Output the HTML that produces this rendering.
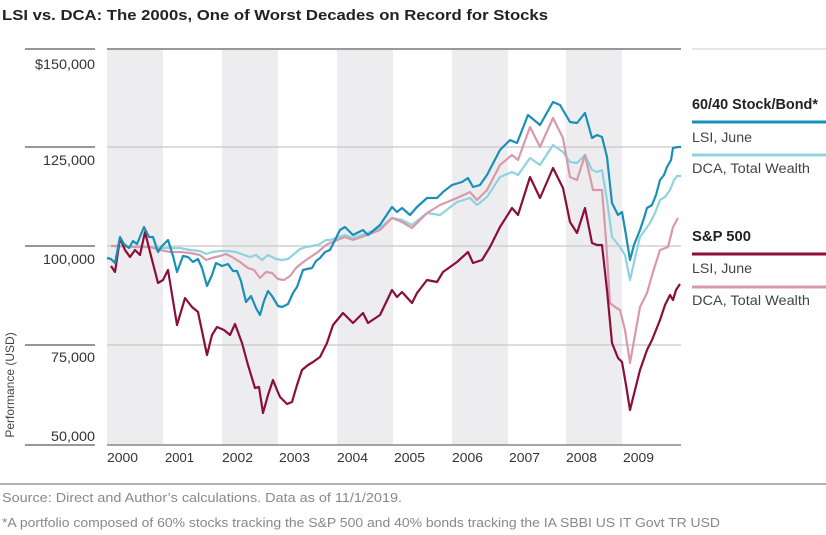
<!DOCTYPE html>
<html><head><meta charset="utf-8"><style>
html,body{margin:0;padding:0;background:#fff;}
svg{display:block;font-family:"Liberation Sans Narrow","Liberation Sans",sans-serif;}
</style></head><body>
<svg width="826" height="535" viewBox="0 0 826 535" xmlns="http://www.w3.org/2000/svg">
<text x="2" y="20" font-size="15" font-weight="bold" fill="#222" textLength="546" lengthAdjust="spacingAndGlyphs">LSI vs. DCA: The 2000s, One of Worst Decades on Record for Stocks</text>
<g fill="#ededef">
<rect x="107" y="50" width="56" height="395"/>
<rect x="222" y="50" width="56" height="395"/>
<rect x="337" y="50" width="56" height="395"/>
<rect x="452" y="50" width="56" height="395"/>
<rect x="566" y="50" width="56" height="395"/>
</g>
<g stroke="#c8c8c8" stroke-width="1.2">
<line x1="107" y1="147" x2="681" y2="147"/>
<line x1="107" y1="246" x2="681" y2="246"/>
<line x1="107" y1="345" x2="681" y2="345"/>
</g>
<g stroke="#777" stroke-width="1.5">
<line x1="25" y1="49" x2="95" y2="49"/>
<line x1="25" y1="147" x2="95" y2="147"/>
<line x1="25" y1="246" x2="95" y2="246"/>
<line x1="25" y1="345" x2="95" y2="345"/>
<line x1="25" y1="445" x2="95" y2="445"/>
<line x1="107" y1="49" x2="681" y2="49" stroke="#999" stroke-width="2"/>
<line x1="107" y1="445" x2="681" y2="445" stroke="#888"/>
<line x1="692" y1="49" x2="826" y2="49" stroke="#ddd"/>
</g>
<g font-size="14" fill="#333" text-anchor="end">
<text x="95" y="69" textLength="60" lengthAdjust="spacingAndGlyphs">$150,000</text>
<text x="95" y="165" textLength="52" lengthAdjust="spacingAndGlyphs">125,000</text>
<text x="95" y="264" textLength="52" lengthAdjust="spacingAndGlyphs">100,000</text>
<text x="95" y="362" textLength="44" lengthAdjust="spacingAndGlyphs">75,000</text>
<text x="95" y="441" textLength="44" lengthAdjust="spacingAndGlyphs">50,000</text>
</g>
<text transform="translate(14,385) rotate(-90)" font-size="12" fill="#444" text-anchor="middle" font-family="Liberation Sans,sans-serif">Performance (USD)</text>
<g font-size="13" fill="#333">
<text x="107" y="462" textLength="31" lengthAdjust="spacingAndGlyphs">2000</text>
<text x="165" y="462" textLength="29" lengthAdjust="spacingAndGlyphs">2001</text>
<text x="222" y="462" textLength="31" lengthAdjust="spacingAndGlyphs">2002</text>
<text x="279" y="462" textLength="31" lengthAdjust="spacingAndGlyphs">2003</text>
<text x="337" y="462" textLength="31" lengthAdjust="spacingAndGlyphs">2004</text>
<text x="394" y="462" textLength="31" lengthAdjust="spacingAndGlyphs">2005</text>
<text x="452" y="462" textLength="31" lengthAdjust="spacingAndGlyphs">2006</text>
<text x="509" y="462" textLength="31" lengthAdjust="spacingAndGlyphs">2007</text>
<text x="566" y="462" textLength="31" lengthAdjust="spacingAndGlyphs">2008</text>
<text x="623" y="462" textLength="31" lengthAdjust="spacingAndGlyphs">2009</text>
</g>
<g fill="none" stroke-width="2.2" stroke-linejoin="round">
<polyline stroke="#8fd3e0" points="111,246 120,246 130,247 140,246 150,247 160,248 170,248 180,248 190,250 200,251 206,254 212,252 220,251 228,251 236,252 244,255 250,257 256,255 262,260 268,255 276,259 282,260 288,259 294,254 300,249 306,247 312,246 318,245 326,240 330,240 345,235 353,238 367,233 380,228 392,218 402,220 412,225 427,213 440,215 457,202 470,198 477,205 487,197 500,177 512,172 518,175 530,158 540,165 553,145 563,152 570,162 577,163 585,155 592,170 597,172 602,170 607,200 612,237 620,247 625,255 630,280 635,258 640,237 645,230 650,223 655,213 660,200 665,197 670,190 674,180 677,176 681,176"/>
<polyline stroke="#d89aab" points="111,246 120,246 130,247 140,247 150,247 160,250 170,252 180,252 190,253 200,255 206,260 212,258 220,256 226,254 232,257 240,262 248,268 254,270 260,278 266,272 272,273 278,279 284,280 290,276 296,268 302,263 306,260 312,256 318,252 326,245 330,243 345,237 353,240 367,235 380,230 392,218 402,222 412,228 427,213 440,205 457,198 470,192 477,200 487,190 500,165 512,155 518,160 530,127 540,147 553,118 563,138 570,177 577,180 585,155 593,190 602,190 606,240 610,303 615,307 620,310 625,330 630,363 635,335 640,307 647,293 653,272 660,250 668,247 673,227 678,218"/>
<polyline stroke="#8b0e3a" points="111,266 115,272 120,238 125,250 130,257 135,250 140,255 145,232 150,252 158,283 163,280 168,270 177,325 185,298 192,307 198,312 207,355 212,335 217,327 224,330 230,335 235,324 242,343 248,365 255,388 259,387 263,413 268,395 273,380 277,390 280,397 287,404 292,402 297,385 302,370 308,365 313,362 320,357 327,343 333,325 338,319 343,313 353,323 363,313 368,323 380,315 392,290 397,297 402,292 412,303 417,293 427,280 437,282 443,272 457,262 468,252 473,263 482,260 490,247 500,227 512,208 518,215 530,177 540,198 553,168 563,188 570,222 577,233 585,208 592,243 597,245 602,245 607,290 612,343 618,358 622,362 626,385 630,410 635,390 640,370 647,350 652,340 660,320 665,305 670,295 673,300 676,290 680,284"/>
<polyline stroke="#1a8fb8" points="107,258 111,259 115,263 120,237 124,244 129,248 133,241 137,244 144,227 149,237 153,237 158,252 162,246 168,240 173,256 177,272 183,256 188,257 193,262 198,259 202,268 207,286 212,275 216,263 222,266 228,264 233,271 237,271 241,281 246,302 251,296 256,308 260,315 264,301 268,291 272,296 278,306 282,307 288,304 293,293 297,287 303,270 307,269 312,268 316,261 320,258 325,252 330,250 335,240 340,230 345,227 353,235 363,230 368,235 380,225 392,207 397,212 402,208 410,215 417,207 427,198 437,198 443,192 452,185 462,182 468,178 473,187 480,185 487,175 500,150 510,140 517,143 528,115 540,125 553,102 560,105 570,122 577,123 585,113 592,138 597,135 602,137 607,157 612,203 618,215 622,212 626,235 630,260 634,245 640,230 644,218 647,208 652,205 656,195 660,180 664,175 667,167 671,160 673,148 678,147 681,147"/>
</g>
<text x="692" y="109" font-size="15" font-weight="bold" fill="#222" textLength="126" lengthAdjust="spacingAndGlyphs">60/40 Stock/Bond*</text>
<line x1="692" y1="122" x2="826" y2="122" stroke="#1a8fb8" stroke-width="3"/>
<text x="692" y="142" font-size="14" fill="#444" textLength="60" lengthAdjust="spacingAndGlyphs">LSI, June</text>
<line x1="692" y1="155" x2="826" y2="155" stroke="#8fd3e0" stroke-width="3"/>
<text x="692" y="173" font-size="14" fill="#444" textLength="118" lengthAdjust="spacingAndGlyphs">DCA, Total Wealth</text>
<text x="692" y="241" font-size="15" font-weight="bold" fill="#222" textLength="59" lengthAdjust="spacingAndGlyphs">S&amp;P 500</text>
<line x1="692" y1="254" x2="826" y2="254" stroke="#8b0e3a" stroke-width="3"/>
<text x="692" y="273" font-size="14" fill="#444" textLength="60" lengthAdjust="spacingAndGlyphs">LSI, June</text>
<line x1="692" y1="287" x2="826" y2="287" stroke="#d89aab" stroke-width="3"/>
<text x="692" y="305" font-size="14" fill="#444" textLength="118" lengthAdjust="spacingAndGlyphs">DCA, Total Wealth</text>
<line x1="0" y1="484" x2="826" y2="484" stroke="#999" stroke-width="1.5"/>
<text x="2" y="502" font-size="13" fill="#888" textLength="400" lengthAdjust="spacingAndGlyphs">Source: Direct and Author’s calculations. Data as of 11/1/2019.</text>
<text x="2" y="527" font-size="13" fill="#888" textLength="718" lengthAdjust="spacingAndGlyphs">*A portfolio composed of 60% stocks tracking the S&amp;P 500 and 40% bonds tracking the IA SBBI US IT Govt TR USD</text>
</svg>
</body></html>
